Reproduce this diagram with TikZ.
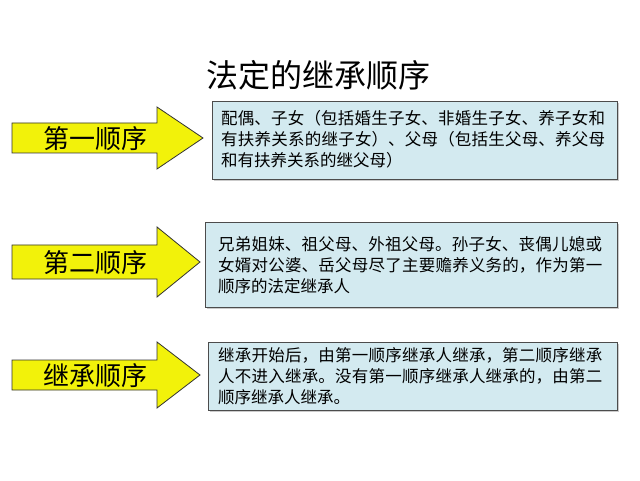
\documentclass[tikz,border=0pt]{standalone}
\usepackage{fontspec}
\setmainfont{Noto Sans CJK SC}
\XeTeXlinebreaklocale "zh"
\XeTeXlinebreakskip=0pt plus 1pt
\usetikzlibrary{shadows}
\definecolor{boxfill}{HTML}{D3EAF0}
\definecolor{arrfill}{HTML}{F2F20A}
\begin{document}
\begin{tikzpicture}[x=1pt,y=-1pt,
  txtbox/.style={draw=black!70,fill=boxfill,line width=0.8pt,drop shadow={shadow xshift=2pt,shadow yshift=-2pt,fill=black!40},inner sep=0pt},
  arr/.style={draw=black!80,line width=0.8pt,fill=arrfill},
  arrlabel/.style={font=\fontsize{26}{28}\selectfont},
  boxtext/.style={font=\fontsize{16.5}{21}\selectfont,align=left,anchor=north west,text width=392pt,inner sep=0pt}]
\useasboundingbox (0,0) rectangle (640,481);
\fill[white] (0,0) rectangle (640,481);
\node[font=\fontsize{32}{34}\selectfont] (title) at (318,75) {法定的继承顺序};
\foreach \c/\t/\h/\s in {138/203/31/15,262/200/35/17,375/200/33/15}{
  \draw[arr] (12,\c-\s) -- (157,\c-\s) -- (157,\c-\h) -- (\t,\c) -- (157,\c+\h) -- (157,\c+\s) -- (12,\c+\s) -- cycle;
}
\node[arrlabel] (l1) at (95,139) {第一顺序};
\node[arrlabel] (l2) at (95,263) {第二顺序};
\node[arrlabel] (l3) at (95,376) {继承顺序};
\node[txtbox,minimum width=405pt,minimum height=78pt,anchor=north west] (b1) at (212,101) {};
\node[boxtext] (t1) at (221,110) {配偶、子女（包括婚生子女、非婚生子女、养子女和有扶养关系的继子女）、父母（包括生父母、养父母和有扶养关系的继父母）};
\node[txtbox,minimum width=412pt,minimum height=85pt,anchor=north west] (b2) at (205,222) {};
\node[boxtext] (t2) at (218,236) {兄弟姐妹、祖父母、外祖父母。孙子女、丧偶儿媳或女婿对公婆、岳父母尽了主要赡养义务的，作为第一顺序的法定继承人};
\node[txtbox,minimum width=409pt,minimum height=68pt,anchor=north west] (b3) at (208,342) {};
\node[boxtext] (t3) at (218,347) {继承开始后，由第一顺序继承人继承，第二顺序继承人不进入继承。没有第一顺序继承人继承的，由第二顺序继承人继承。};
\end{tikzpicture}
\end{document}
